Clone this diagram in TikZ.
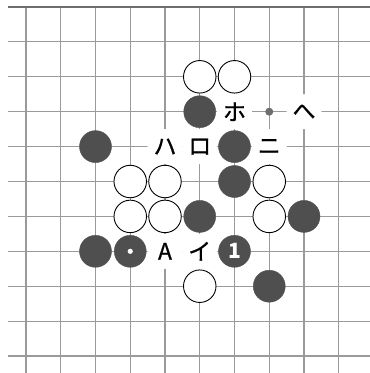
\documentclass[tikz,border=0pt]{standalone}
\usepackage{fontspec}
\newfontfamily\jp{Noto Sans CJK JP}
\newfontfamily\jpl[FakeBold=0.8]{Noto Sans CJK JP}
\definecolor{gridc}{HTML}{9A9A9A}
\definecolor{edgec}{HTML}{6E6E6E}
\definecolor{blk}{HTML}{4F4F4F}
\begin{document}
\begin{tikzpicture}[x=34.75pt,y=-34.9pt,
  bstone/.style={circle,fill=blk,draw=blk,line width=0.4pt,minimum size=32pt,inner sep=0pt},
  wstone/.style={circle,fill=white,draw=black,line width=0.9pt,minimum size=32.5pt,inner sep=0pt},
  lbl/.style={circle,fill=white,minimum size=35pt,inner sep=0pt,font=\jpl\fontsize{23}{23}\selectfont},
  gridline/.style={draw=gridc,line width=1.2pt},
  edgeline/.style={draw=edgec,line width=2.6pt},
  ]
\useasboundingbox (-0.748,-0.2006) rectangle (9.899,10.487);
\fill[white] (-0.748,-0.2006) rectangle (9.899,10.487);
% grid
\foreach \i in {0,...,9} \draw[gridline] (\i,0) -- (\i,10.487);
\foreach \j in {1,...,10} \draw[gridline] (-0.518,\j) -- (9.899,\j);
\draw[edgeline] (-0.518,0) -- (9.899,0);
% labels (erase grid)
\node[lbl] (ho) at (6,3) {ホ};
\node[lbl] (he) at (8,3) {へ};
\node[lbl] (ha) at (4,4) {ハ};
\node[lbl] (ro) at (5,4) {ロ};
\node[lbl] (ni) at (7,4) {ニ};
\node[lbl] (a) at (4,7) {A};
\node[lbl] (i) at (5,7) {イ};
% small point
\fill[edgec] (7,3) circle (4pt);
% white stones
\foreach \x/\y [count=\k] in {5/2,6/2,3/5,4/5,7/5,3/6,4/6,7/6,5/8}
  \node[wstone] (w\k) at (\x,\y) {};
% black stones
\foreach \x/\y [count=\k] in {5/3,2/4,6/4,6/5,5/6,8/6,2/7,7/8}
  \node[bstone] (b\k) at (\x,\y) {};
\node[bstone] (bdot) at (3,7) {};
\fill[white] (bdot.center) circle (2.6pt);
\node[bstone,text=white,font=\jp\bfseries\fontsize{21}{21}\selectfont] (b1) at (6,7) {1};
\end{tikzpicture}
\end{document}
